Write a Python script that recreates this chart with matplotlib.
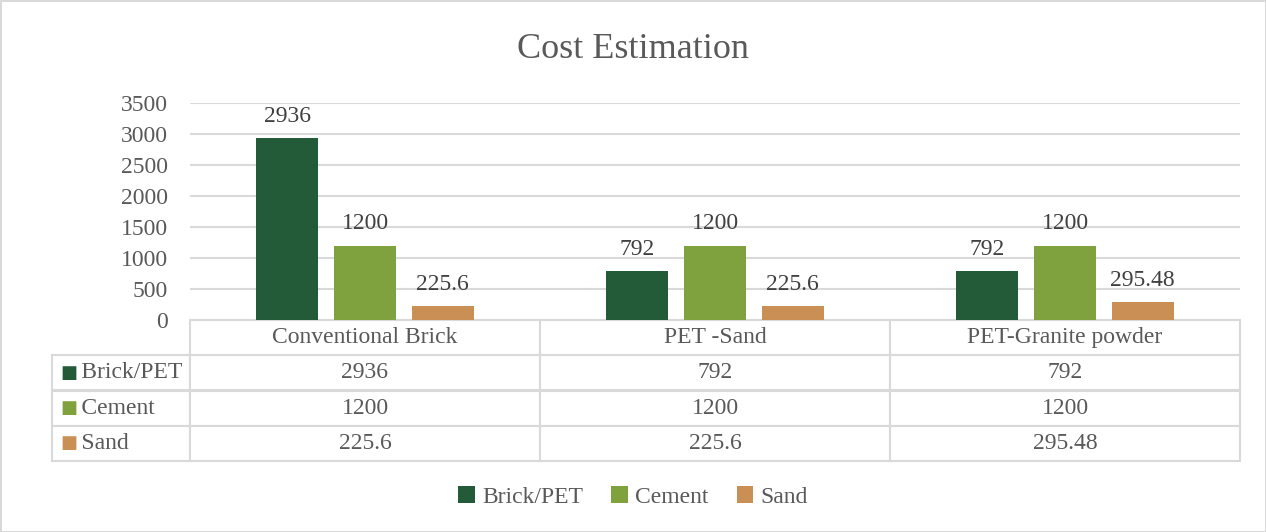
import matplotlib.pyplot as plt
import numpy as np

# data
categories = ["Conventional Brick", "PET -Sand", "PET-Granite powder"]
series = ["Brick/PET", "Cement", "Sand"]
brick_pet = [2936, 792, 792]
cement = [1200, 1200, 1200]
sand = [225.6, 225.6, 295.48]
value_labels = [["2936", "792", "792"],
                ["1200", "1200", "1200"],
                ["225.6", "225.6", "295.48"]]
colors = ["#235a38", "#7fa23e", "#c98f55"]

plt.rcParams["font.family"] = ["Liberation Serif", "DejaVu Serif"]
txt = "#595959"
grid = "#d9d9d9"
fs = 17

fig = plt.figure(figsize=(12.66, 5.32), dpi=100)
fig.patch.set_edgecolor(grid)
fig.patch.set_linewidth(2)
ax = fig.add_axes([190 / 1266, 1 - 320 / 532, 1050 / 1266, 217 / 532])

x = np.arange(len(categories))
width = 0.177
offset = 0.222
for i, vals in enumerate([brick_pet, cement, sand]):
    bars = ax.bar(x + (i - 1) * offset, vals, width, color=colors[i], label=series[i], zorder=3)
    ax.bar_label(bars, labels=value_labels[i], padding=8, fontsize=fs, color="#404040")

ax.set_xlim(-0.5, 2.5)
ax.set_ylim(0, 3500)
ax.set_yticks(range(0, 3501, 500))
ax.set_xticks([])
ax.tick_params(axis="y", length=0, pad=16, labelsize=fs, labelcolor=txt)
ax.grid(axis="y", color=grid, linewidth=1.5, zorder=0)
for s in ax.spines.values():
    s.set_visible(False)

# data table under the bars (first column holds the series names)
left = -138 / 1050
h = 141 / 217
cells = [["     " + s] + row for s, row in zip(series, value_labels)]
tbl = ax.table(cellText=cells,
               colLabels=[""] + categories,
               colWidths=[138, 350, 350, 350],
               cellLoc="center",
               bbox=[left, -h, 1 - left, h])
tbl.auto_set_font_size(False)
for (r, c), cell in tbl.get_celld().items():
    cell.set_edgecolor(grid)
    cell.set_linewidth(1.5)
    cell.get_text().set_fontsize(fs)
    cell.get_text().set_color(txt)
    cell.PAD = 0.02
    if c == 0:
        cell.get_text().set_ha("left")
        cell.PAD = 0.0
    if r == 0 and c == 0:
        cell.visible_edges = "open"

row_h = h / 4
for i, col in enumerate(colors):
    ax.text(left + 0.008, -row_h * (i + 1.5), "■", color=col, fontsize=13,
            va="center", ha="left", transform=ax.transAxes, family="DejaVu Sans")

fig.suptitle("Cost Estimation", y=1 - 50 / 532, va="center", fontsize=26, color=txt)
fig.legend(loc="center", bbox_to_anchor=(0.5, 1 - 497 / 532), ncol=3, frameon=False,
           fontsize=fs, labelcolor=txt, handlelength=0.7, handleheight=0.7,
           handletextpad=0.3, columnspacing=1.2)

fig.savefig("out.png", dpi=100)
